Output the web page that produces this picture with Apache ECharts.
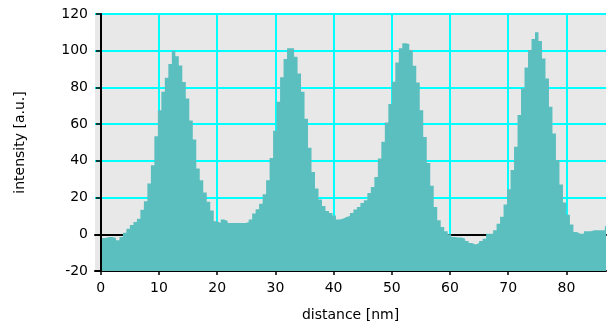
<!DOCTYPE html>
<html>
<head>
<meta charset="utf-8">
<script src="https://cdn.jsdelivr.net/npm/echarts@6/dist/echarts.min.js"></script>
<style>
  html, body { margin: 0; padding: 0; background: #fff; }
  #chart { width: 608px; height: 327px; }
</style>
</head>
<body>
<div id="chart"></div>
<script>
// histogram bins along the line profile
const binStart = 0.2; // nm
const binWidth = 0.6; // nm
const intensity = [
  -2, -1.5, -1.5, -2, -3.3, -1.5, 0.9, 3, 5, 6.7,
  8.5, 13.4, 18, 27.6, 37.6, 53.4, 67.6, 77.6, 85.3, 92.7,
  100, 97, 92, 83, 74, 62, 51.6, 35.8, 29.5, 22.8,
  17.7, 13, 7.1, 6.2, 8, 7.3, 6.2, 6.2, 6.2, 6.2,
  6.2, 6.5, 8, 11.3, 13.6, 16.7, 21.8, 29.5, 41.6, 56.4,
  72.2, 85.5, 95.5, 101.3, 101.3, 96.7, 87.6, 77.6, 63, 47.2,
  33.9, 24.9, 18.9, 15.4, 12.7, 11.6, 10.3, 8, 8.5, 9.4,
  9.9, 11.6, 13.5, 14.9, 17.1, 18.5, 22.5, 25.8, 31.2, 41.3,
  50.4, 60.9, 71, 83.1, 93.6, 101.3, 104, 103.7, 100.4, 91.8,
  82.7, 67.6, 53, 38.9, 26.4, 14.9, 7.6, 4, 1.6, 0,
  -1.5, -1.8, -1.8, -2.4, -3.6, -4.7, -5.6, -4.7, -3.6, -2.4,
  0.3, 0.3, 2.2, 5.8, 9.5, 16.2, 24.6, 35, 47.7, 65,
  79.5, 90.8, 100.4, 106.4, 110, 105.3, 95.8, 84.9, 69.5, 54.9,
  40.4, 27.1, 17.3, 10.7, 5.3, 1.3, 0.3, 0.3, 1.6, 1.6,
  2.2, 2.2, 2.2, 2.2, 4.4
];
const xTicks = [0, 10, 20, 30, 40, 50, 60, 70, 80];
const yTicks = [-20, 0, 20, 40, 60, 80, 100, 120];

const fillColor = "#5cbfbf";
const gridColor = "#00ffff";
const font = "DejaVu Sans";

var points = intensity.map(function (v, i) {
  return [binStart + i * binWidth, v];
});
// close the last bin
points.push([binStart + intensity.length * binWidth, intensity[intensity.length - 1]]);

var chart = echarts.init(document.getElementById("chart"));
var option = {
  animation: false,
  grid: {
    left: 95,
    right: 2,
    top: 14,
    bottom: 55,
    show: true,
    backgroundColor: "#e8e8e8",
    borderWidth: 0,
  },
  xAxis: [
    {
      type: "value",
      min: -1,
      max: 86.8,
      splitNumber: 9,
      name: "distance [nm]",
      nameLocation: "middle",
      nameGap: 37,
      nameTextStyle: { fontFamily: font, fontSize: 14, color: "#000" },
      axisLine: { show: true, onZero: false, lineStyle: { color: "#000", width: 2 } },
      axisTick: { show: true, length: 4, customValues: xTicks, lineStyle: { color: "#000", width: 1.5 } },
      axisLabel: {
        customValues: xTicks,
        fontFamily: font,
        fontSize: 14,
        color: "#000",
        margin: 10,
      },
      splitLine: { show: true, lineStyle: { color: gridColor, width: 2 } },
    },
    {
      // top frame line only
      type: "value",
      position: "top",
      min: -1,
      max: 86.8,
      axisLine: { show: true, lineStyle: { color: "#000", width: 2 } },
      axisTick: { show: false },
      axisLabel: { show: false },
      splitLine: { show: false },
    },
  ],
  yAxis: {
    type: "value",
    min: yTicks[0],
    max: yTicks[yTicks.length - 1],
    interval: yTicks[1] - yTicks[0],
    name: "intensity [a.u.]",
    nameLocation: "middle",
    nameGap: 68,
    nameTextStyle: { fontFamily: font, fontSize: 14, color: "#000" },
    axisLine: { show: true, lineStyle: { color: "#000", width: 2 } },
    axisTick: { show: true, length: 5, lineStyle: { color: "#000", width: 1.5 } },
    axisLabel: { fontFamily: font, fontSize: 14, color: "#000", margin: 7 },
    splitLine: { show: true, lineStyle: { color: gridColor, width: 2 } },
  },
  series: [
    {
      type: "line",
      step: "end",
      data: points,
      symbol: "none",
      silent: true,
      lineStyle: { width: 0 },
      areaStyle: { color: fillColor, opacity: 1, origin: "start" },
    },
  ],
};
chart.setOption(option);
</script>
</body>
</html>
